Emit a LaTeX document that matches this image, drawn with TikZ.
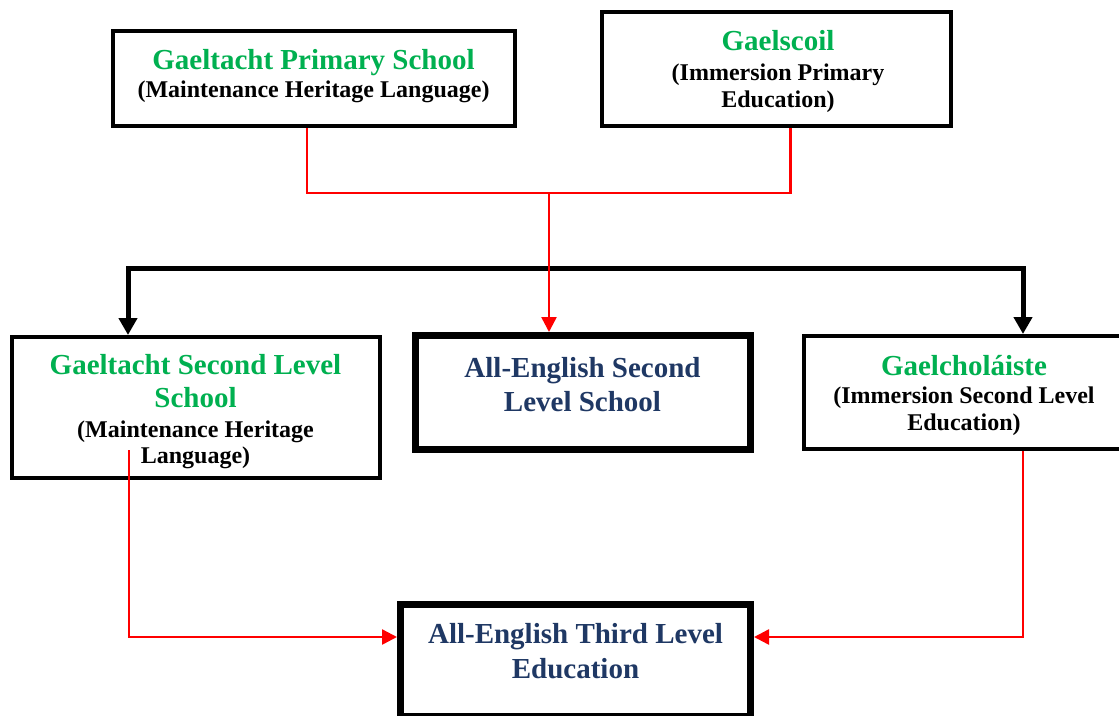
\documentclass[tikz,border=0pt]{standalone}
\usepackage{fontspec}
\setmainfont{Liberation Serif}
\usetikzlibrary{arrows.meta}
\definecolor{gGreen}{HTML}{00B050}
\definecolor{navyT}{HTML}{1F3864}
\newcommand\greenhead[1]{{\fontsize{29}{33}\selectfont\bfseries\color{gGreen}#1}}
\begin{document}
\begin{tikzpicture}[x=1pt,y=-1pt,
  box/.style={draw, line width=4pt, fill=white, inner sep=0pt},
  thickbox/.style={draw, line width=7pt, fill=white, inner sep=0pt},
  txt/.style={align=center, inner sep=0pt, font=\fontsize{24}{27}\selectfont\bfseries},
  navytxt/.style={align=center, inner sep=0pt, text=navyT, font=\fontsize{29}{34}\selectfont\bfseries},
  redline/.style={draw=red, line width=2.5pt, line join=miter},
  redarrow/.style={redline, -{Triangle[length=15pt,width=15pt]}},
  busline/.style={draw=black, line width=5pt, line join=miter,
    {Triangle[length=17pt,width=18pt]}-{Triangle[length=17pt,width=18pt]}}]
\useasboundingbox (0,0) rectangle (1119,715);
\clip (0,0) rectangle (1119,715);

% boxes
\node[box, minimum width=402pt, minimum height=95pt] (gps) at (314,78.5) {};
\node[box, minimum width=349pt, minimum height=114pt] (gsc) at (776.5,69) {};
\node[box, minimum width=368pt, minimum height=141pt] (gsl) at (196,407.5) {};
\node[thickbox, minimum width=335pt, minimum height=114pt] (aes) at (583,392.5) {};
\node[box, minimum width=321pt, minimum height=113pt] (gcl) at (964.5,392.5) {};
\node[thickbox, minimum width=350pt, minimum height=112pt] (aet) at (575.5,660.5) {};

% texts (anchored at the baseline of the last line)
\node[txt, anchor=base] (gpsT) at (313.5,97)
  {\greenhead{Gaeltacht Primary School}\\[1pt](Maintenance Heritage Language)};
\node[txt, anchor=base] (gscT) at (778,107)
  {\greenhead{Gaelscoil}\\[3pt](Immersion Primary\\Education)};
\node[txt, anchor=base] (gslT) at (195.5,463)
  {\greenhead{Gaeltacht Second Level}\\[6pt]\greenhead{School}\\[3pt](Maintenance Heritage\\[-1pt]Language)};
\node[navytxt, anchor=base] (aesT) at (582.5,411)
  {All-English Second\\Level School};
\node[txt, anchor=base] (gclT) at (964,430)
  {\greenhead{Gaelcholáiste}\\[1pt](Immersion Second Level\\Education)};
\node[navytxt, anchor=base] (aetT) at (575.5,678)
  {All-English Third Level\\[1pt]Education};

% connectors
\coordinate (j) at (549,193);
\coordinate (bl) at (128,268);
\coordinate (br) at (1023,268);
\coordinate (ls) at (129,450);

\draw[busline] (bl |- gsl.north) -- (bl) -- (br) -- (br |- gcl.north);
\draw[redline] ([xshift=-7pt]gps.south) |- (j) -| ([xshift=14pt]gsc.south);
\draw[redarrow] (j) -- (j |- aes.north);
\draw[redarrow] (ls) |- ([yshift=23.5pt]aet.west);
\draw[redarrow] (br |- gcl.south) |- ([yshift=23.5pt]aet.east);
\end{tikzpicture}
\end{document}
